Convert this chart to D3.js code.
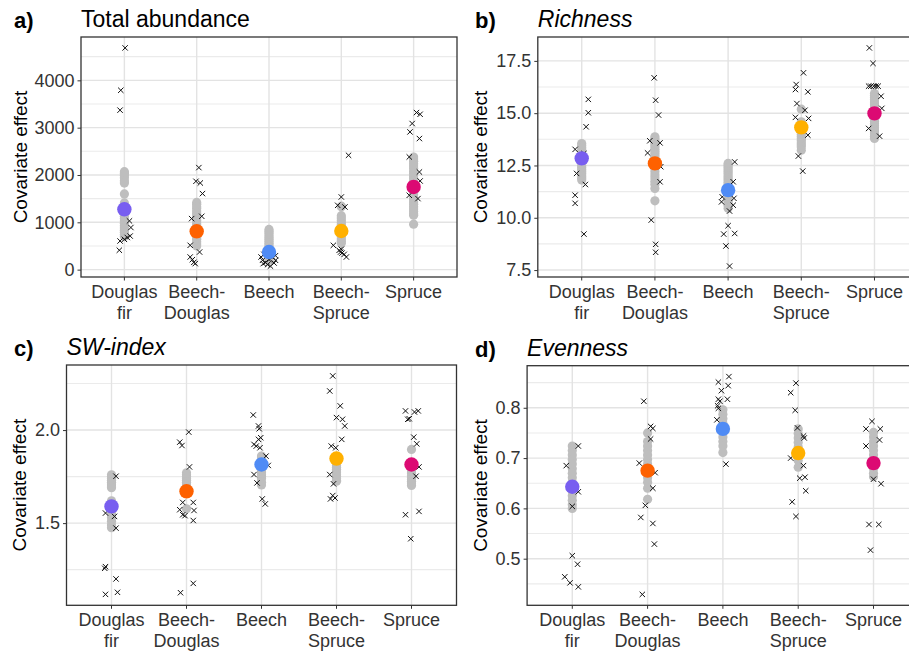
<!doctype html>
<html lang="en">
<head>
<meta charset="utf-8">
<title>Covariate effects by stand type</title>
<script src="https://d3js.org/d3.v7.min.js"></script>
<style>
  body { margin: 0; background: #fff; }
  text { font-family: "Liberation Sans", Arial, sans-serif; }
</style>
</head>
<body>
<div id="chart"></div>
<script>
// stand types and their colours (mean dots)
var categories = ["Douglas fir", "Beech-Douglas", "Beech", "Beech-Spruce", "Spruce"];
var categoryLines = [["Douglas", "fir"], ["Beech-", "Douglas"], ["Beech"], ["Beech-", "Spruce"], ["Spruce"]];
var meanColors = ["#785EF0", "#FE6100", "#4F8BF5", "#FFB000", "#DC0A73"];

// a) Total abundance
var abundanceMeans = [1275, 810, 372, 816, 1747];
var abundanceFitted = [
  [2070, 2030, 1990, 1940, 1880, 1830, 1600, 1410, 1360, 1310, 1240, 1190, 1130, 1080, 1030, 980, 930, 880, 830, 790, 740, 700],
  [1420, 1380, 1330, 1290, 1240, 1190, 1140, 1090, 1040, 990, 950, 900, 850, 780, 730, 680, 640, 590, 540, 500],
  [850, 810, 770, 720, 680, 640, 600, 560, 520, 480, 440, 400, 350, 310, 270, 230, 200],
  [1340, 1330, 1140, 1090, 1040, 990, 950, 900, 850, 800, 750, 700, 650, 600, 560],
  [2380, 2340, 2290, 2240, 2190, 2140, 2080, 2030, 1980, 1930, 1880, 1830, 1780, 1730, 1680, 1630, 1580, 1530, 1480, 1430, 1380, 1330, 1280, 1230, 1180, 1150, 960]
];
// observed plots: [value, jitter as fraction of category step]
var abundanceObs = [
  [[4685, 0.01], [3790, -0.05], [3370, -0.06], [410, -0.07], [1030, 0.07], [890, 0.09], [710, 0.08], [680, 0.04], [640, 0.0], [605, -0.06]],
  [[2156, 0.03], [1867, -0.01], [1831, 0.05], [1607, 0.08], [1127, 0.07], [1078, -0.07], [514, -0.09], [372, 0.04], [267, -0.09], [211, -0.06], [154, -0.04], [127, -0.02]],
  [[323, -0.07], [267, -0.11], [197, -0.09], [148, -0.05], [106, -0.02], [75, 0.02], [140, 0.07], [197, 0.09], [295, 0.09], [267, 0.05], [211, 0.0], [127, -0.08]],
  [[2416, 0.10], [1535, 0.0], [1359, -0.05], [1324, 0.05], [514, -0.11], [408, -0.03], [351, 0.01], [323, 0.04], [267, 0.07], [372, -0.01], [430, 0.0]],
  [[3319, 0.04], [3283, 0.09], [3087, -0.02], [2910, -0.05], [2770, 0.08], [2381, -0.06], [2063, 0.08], [1873, 0.09], [1501, 0.06], [1571, -0.06]]
];

// b) Richness
var richnessMeans = [12.84, 12.6, 11.32, 14.32, 14.99];
var richnessFitted = [
  [13.55, 13.45, 13.35, 13.25, 13.15, 13.05, 12.95, 12.85, 12.75, 12.65, 12.5, 12.4, 12.3, 12.2, 12.1, 12.0, 11.9, 11.8],
  [13.87, 13.78, 13.68, 13.58, 13.48, 13.38, 13.28, 13.18, 13.08, 12.98, 12.88, 12.78, 12.5, 12.35, 12.2, 12.05, 11.9, 11.75, 11.6, 11.4, 10.81],
  [12.6, 12.5, 12.4, 12.3, 12.2, 12.1, 12.0, 11.9, 11.8, 11.7, 11.6, 11.5, 11.4, 11.3, 11.2, 11.1, 11.0, 10.9, 10.8, 10.7, 10.6, 10.45],
  [15.19, 14.59, 14.48, 14.38, 14.28, 14.18, 14.08, 13.98, 13.88, 13.78, 13.68, 13.58, 13.48, 13.38, 13.23],
  [15.94, 15.84, 15.74, 15.64, 15.54, 15.44, 15.34, 15.24, 15.14, 15.04, 14.9, 14.8, 14.7, 14.6, 14.5, 14.4, 14.3, 14.2, 14.1, 14.0, 13.9, 13.79]
];
var richnessObs = [
  [[15.66, 0.09], [15.02, 0.09], [14.35, 0.06], [13.27, -0.09], [13.07, 0.03], [12.12, -0.07], [11.59, 0.05], [11.08, -0.09], [10.69, -0.09], [9.22, 0.03]],
  [[16.69, -0.01], [15.62, 0.01], [14.91, 0.05], [13.68, -0.07], [13.58, 0.07], [13.1, -0.1], [12.44, 0.08], [11.72, 0.07], [9.89, -0.05], [8.73, 0.01], [8.35, 0.01]],
  [[12.67, 0.09], [11.72, 0.07], [11.0, -0.08], [10.76, -0.09], [10.93, 0.08], [10.6, 0.07], [10.32, 0.02], [9.62, 0.0], [9.22, -0.06], [9.25, 0.09], [8.65, -0.03], [7.69, 0.02]],
  [[16.93, 0.03], [16.37, -0.07], [16.13, -0.08], [16.02, 0.09], [15.46, -0.06], [15.14, 0.05], [14.8, -0.08], [14.75, 0.1], [13.95, 0.09], [12.95, -0.04], [12.23, 0.02]],
  [[18.12, -0.07], [17.38, -0.02], [16.29, -0.08], [16.29, -0.05], [16.29, -0.01], [16.29, 0.02], [16.29, 0.05], [15.81, 0.09], [15.23, 0.1], [14.27, -0.08], [13.9, 0.07]]
];

// c) SW-index
var swMeans = [1.59, 1.671, 1.815, 1.847, 1.815];
var swFitted = [
  [1.76, 1.75, 1.74, 1.73, 1.72, 1.71, 1.70, 1.69, 1.62, 1.61, 1.60, 1.58, 1.56, 1.55, 1.53, 1.51, 1.49, 1.475],
  [1.77, 1.76, 1.75, 1.74, 1.73, 1.72, 1.71, 1.70, 1.69, 1.577],
  [1.86, 1.85, 1.84, 1.83, 1.82, 1.81, 1.80, 1.79, 1.78, 1.77, 1.76, 1.75, 1.74, 1.72, 1.705],
  [1.81, 1.80, 1.79, 1.78, 1.77, 1.76, 1.75, 1.74, 1.73, 1.725],
  [1.896, 1.806, 1.795, 1.785, 1.775, 1.765, 1.755, 1.745, 1.735, 1.725, 1.715, 1.702]
];
var swObs = [
  [[1.752, 0.06], [1.554, -0.08], [1.536, 0.04], [1.473, 0.06], [1.266, -0.08], [1.257, -0.09], [1.2, 0.06], [1.128, 0.08], [1.117, -0.08]],
  [[1.989, 0.03], [1.935, -0.09], [1.917, -0.06], [1.802, 0.04], [1.611, -0.05], [1.611, 0.09], [1.572, -0.09], [1.568, 0.1], [1.545, -0.05], [1.54, -0.02], [1.514, 0.09], [1.176, 0.09], [1.126, -0.08]],
  [[2.081, -0.11], [2.022, -0.04], [2.007, -0.03], [1.959, -0.01], [1.95, -0.04], [1.923, -0.1], [1.914, -0.07], [1.905, -0.02], [1.86, 0.06], [1.81, 0.09], [1.761, -0.1], [1.716, -0.06], [1.63, 0.01], [1.603, 0.05]],
  [[2.291, -0.05], [2.21, -0.09], [2.13, 0.05], [2.067, 0.0], [2.058, 0.08], [2.022, 0.11], [1.95, 0.07], [1.914, -0.07], [1.905, -0.01], [1.761, -0.09], [1.711, -0.04], [1.648, -0.05], [1.63, -0.08], [1.635, -0.02]],
  [[2.103, -0.08], [2.097, 0.04], [2.103, 0.09], [2.058, -0.05], [2.061, -0.03], [1.962, 0.03], [1.926, 0.07], [1.802, 0.1], [1.752, 0.06], [1.545, -0.08], [1.563, 0.1], [1.416, -0.01]]
];

// d) Evenness
var evenMeans = [0.643, 0.675, 0.758, 0.71, 0.69];
var evenFitted = [
  [0.724, 0.715, 0.706, 0.697, 0.688, 0.679, 0.670, 0.661, 0.652, 0.643, 0.634, 0.625, 0.616, 0.607, 0.600],
  [0.75, 0.733, 0.724, 0.715, 0.706, 0.697, 0.688, 0.679, 0.670, 0.661, 0.652, 0.640, 0.618],
  [0.796, 0.787, 0.778, 0.769, 0.760, 0.751, 0.742, 0.733, 0.724, 0.711],
  [0.758, 0.749, 0.740, 0.731, 0.722, 0.713, 0.704, 0.695, 0.682],
  [0.751, 0.742, 0.733, 0.724, 0.715, 0.706, 0.697, 0.688, 0.679, 0.670, 0.663]
];
var evenObs = [
  [[0.724, 0.08], [0.685, -0.08], [0.633, 0.08], [0.604, 0.0], [0.506, 0.0], [0.489, 0.07], [0.464, -0.1], [0.452, -0.03], [0.444, 0.08]],
  [[0.813, -0.05], [0.763, 0.04], [0.759, 0.07], [0.738, 0.04], [0.69, -0.11], [0.671, 0.1], [0.64, 0.07], [0.606, -0.03], [0.582, -0.09], [0.57, 0.07], [0.529, 0.09], [0.429, -0.07]],
  [[0.862, 0.08], [0.851, -0.06], [0.844, 0.07], [0.834, -0.02], [0.817, 0.06], [0.817, -0.06], [0.813, -0.04], [0.804, -0.07], [0.799, -0.06], [0.776, -0.08], [0.688, 0.04]],
  [[0.849, -0.03], [0.83, -0.1], [0.795, -0.04], [0.76, -0.01], [0.744, 0.07], [0.74, 0.08], [0.7, -0.1], [0.685, 0.07], [0.66, 0.02], [0.662, 0.09], [0.635, 0.1], [0.613, -0.08], [0.584, -0.03]],
  [[0.773, -0.02], [0.758, -0.1], [0.758, 0.09], [0.736, 0.08], [0.724, -0.1], [0.649, 0.1], [0.658, 0.0], [0.568, -0.06], [0.568, 0.07], [0.517, -0.04]]
];

// tick values per panel
var abundanceTicks = [0, 1000, 2000, 3000, 4000];
var abundanceMinor = [500, 1500, 2500, 3500, 4500];
var richnessTicks = [7.5, 10.0, 12.5, 15.0, 17.5];
var richnessMinor = [8.75, 11.25, 13.75, 16.25];
var swTicks = [1.5, 2.0];
var swMinor = [1.25, 1.75, 2.25];
var evenTicks = [0.5, 0.6, 0.7, 0.8];
var evenMinor = [0.45, 0.55, 0.65, 0.75, 0.85];

var width = 909, height = 655;

var svg = d3.select("#chart").append("svg")
    .attr("width", width)
    .attr("height", height);

var panels = [
  {tag: "a)", title: "Total abundance", italic: false, box: [81, 37, 457, 277], labelX: 20,
   means: abundanceMeans, fitted: abundanceFitted, obs: abundanceObs, ticks: abundanceTicks, minor: abundanceMinor, fmt: d3.format("d")},
  {tag: "b)", title: "Richness", italic: true, box: [537.8, 37, 918.4, 277], labelX: 480,
   means: richnessMeans, fitted: richnessFitted, obs: richnessObs, ticks: richnessTicks, minor: richnessMinor, fmt: d3.format(".1f")},
  {tag: "c)", title: "SW-index", italic: true, box: [66.5, 365, 456.5, 605.3], labelX: 19,
   means: swMeans, fitted: swFitted, obs: swObs, ticks: swTicks, minor: swMinor, fmt: d3.format(".1f")},
  {tag: "d)", title: "Evenness", italic: true, box: [527.1, 365.7, 918.7, 605.3], labelX: 480,
   means: evenMeans, fitted: evenFitted, obs: evenObs, ticks: evenTicks, minor: evenMinor, fmt: d3.format(".1f")}
];

panels.forEach(function(p, pi) {
  var x0 = p.box[0], y0 = p.box[1], x1 = p.box[2], y1 = p.box[3];

  // ggplot-like 5% expansion of the data range
  var all = [];
  p.means.forEach(function(v) { all.push(v); });
  p.fitted.forEach(function(arr) { arr.forEach(function(v) { all.push(v); }); });
  p.obs.forEach(function(arr) { arr.forEach(function(o) { all.push(o[0]); }); });
  var ext = d3.extent(all), pad = (ext[1] - ext[0]) * 0.05;

  var x = d3.scalePoint().domain(categories).range([x0, x1]).padding(0.6);
  var y = d3.scaleLinear().domain([ext[0] - pad, ext[1] + pad]).range([y1, y0]);
  var step = x.step();

  var g = svg.append("g");

  // grid
  g.selectAll(".minor").data(p.minor).enter().append("line")
      .attr("x1", x0).attr("x2", x1)
      .attr("y1", function(d) { return y(d); }).attr("y2", function(d) { return y(d); })
      .attr("stroke", "#ebebeb").attr("stroke-width", 1.1);
  g.selectAll(".major").data(p.ticks).enter().append("line")
      .attr("x1", x0).attr("x2", x1)
      .attr("y1", function(d) { return y(d); }).attr("y2", function(d) { return y(d); })
      .attr("stroke", "#e3e3e3").attr("stroke-width", 1.4);
  g.selectAll(".vgrid").data(categories).enter().append("line")
      .attr("x1", function(d) { return x(d); }).attr("x2", function(d) { return x(d); })
      .attr("y1", y0).attr("y2", y1)
      .attr("stroke", "#e3e3e3").attr("stroke-width", 1.4);

  // fitted values (grey column)
  categories.forEach(function(c, i) {
    g.selectAll(null).data(p.fitted[i]).enter().append("circle")
        .attr("cx", x(c))
        .attr("cy", function(d) { return y(d); })
        .attr("r", 4.6)
        .attr("fill", "#bebebe");
  });

  // observed plots (crosses)
  categories.forEach(function(c, i) {
    g.selectAll(null).data(p.obs[i]).enter().append("path")
        .attr("transform", function(d) { return "translate(" + (x(c) + d[1] * step) + "," + y(d[0]) + ")"; })
        .attr("d", "M-2.7,-2.7L2.7,2.7M-2.7,2.7L2.7,-2.7")
        .attr("stroke", "#111")
        .attr("stroke-width", 1)
        .attr("fill", "none");
  });

  // means
  g.selectAll(".mean").data(p.means).enter().append("circle")
      .attr("cx", function(d, i) { return x(categories[i]); })
      .attr("cy", function(d) { return y(d); })
      .attr("r", 7.2)
      .attr("fill", function(d, i) { return meanColors[i]; });

  // border
  g.append("rect")
      .attr("x", x0).attr("y", y0)
      .attr("width", x1 - x0).attr("height", y1 - y0)
      .attr("fill", "none").attr("stroke", "#333").attr("stroke-width", 1.3);

  // y axis
  var yAxis = g.append("g")
      .attr("transform", "translate(" + x0 + ",0)")
      .call(d3.axisLeft(y).tickValues(p.ticks).tickFormat(p.fmt).tickSize(3.5).tickPadding(3));
  yAxis.select(".domain").remove();
  yAxis.selectAll("line").attr("stroke", "#333");
  yAxis.selectAll("text")
      .attr("fill", "#333")
      .style("font-size", "18px")
      .style("font-family", "'Liberation Sans', Arial, sans-serif");

  // x ticks and two-line labels
  g.selectAll(".xtick").data(categories).enter().append("line")
      .attr("x1", function(d) { return x(d); }).attr("x2", function(d) { return x(d); })
      .attr("y1", y1).attr("y2", y1 + 3.5)
      .attr("stroke", "#333");
  var lab = g.selectAll(".xlab").data(categories).enter().append("text")
      .attr("text-anchor", "middle")
      .attr("fill", "#333")
      .style("font-size", "18px");
  lab.each(function(d, i) {
    var t = d3.select(this);
    categoryLines[i].forEach(function(line, k) {
      t.append("tspan")
          .attr("x", x(d))
          .attr("y", y1 + 21 + k * 21)
          .text(line);
    });
  });

  // y label
  g.append("text")
      .attr("transform", "translate(" + p.labelX + "," + ((y0 + y1) / 2) + ") rotate(-90)")
      .attr("dy", "0.35em")
      .attr("text-anchor", "middle")
      .attr("fill", "#000")
      .style("font-size", "19px")
      .text("Covariate effect");

  // tag and title
  var tagX = pi % 2 === 0 ? 14 : 475;
  var base = y0 - 10;
  g.append("text")
      .attr("x", tagX).attr("y", base + 1)
      .attr("fill", "#000")
      .style("font-size", "22px")
      .style("font-weight", "bold")
      .text(p.tag);
  g.append("text")
      .attr("x", x0).attr("y", base)
      .attr("fill", "#000")
      .style("font-size", "23px")
      .style("font-style", p.italic ? "italic" : "normal")
      .text(p.title);
});
</script>
</body>
</html>
